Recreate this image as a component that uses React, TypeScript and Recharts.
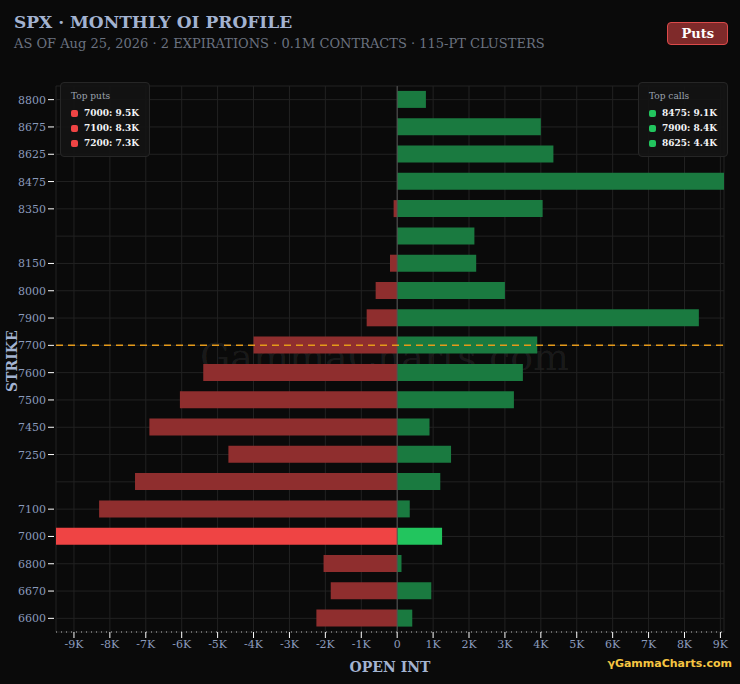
import { Bar, BarChart, CartesianGrid, Cell, ReferenceLine, XAxis, YAxis } from "recharts";

const strikes = ["8800", "8675", "8625", "8475", "8350", "8250", "8150", "8000", "7900", "7700", "7600", "7500", "7450", "7250", "7200", "7100", "7000", "6800", "6670", "6600"];
const hiddenLabels = ["8250", "7200"];
const puts = [0, 0, 0, 0, 0.1, 0, 0.2, 0.6, 0.85, 4.0, 5.4, 6.05, 6.9, 4.7, 7.3, 8.3, 9.5, 2.05, 1.85, 2.25];
const calls = [0.8, 4.0, 4.35, 9.1, 4.05, 2.15, 2.2, 3.0, 8.4, 3.9, 3.5, 3.25, 0.9, 1.5, 1.2, 0.35, 1.25, 0.12, 0.95, 0.42];
const xTicks = [-9, -8, -7, -6, -5, -4, -3, -2, -1, 0, 1, 2, 3, 4, 5, 6, 7, 8, 9];
const spot = "7700";
const highlight = "7000";
const topPuts = ["7000: 9.5K", "7100: 8.3K", "7200: 7.3K"];
const topCalls = ["8475: 9.1K", "7900: 8.4K", "8625: 4.4K"];

const rows = strikes.map((s, i) => ({ strike: s, put: -puts[i], call: calls[i] }));

const font = "DejaVu Serif, serif";

const Box = ({ title, items, color, style }: { title: string; items: string[]; color: string; style: any }) => (
  <div style={{ position: "absolute", background: "rgba(20,20,20,0.92)", border: "1px solid #262626", borderRadius: 4, padding: "8px 10px 3px", fontSize: 9, ...style }}>
    <div style={{ color: "#9ca3af", marginBottom: 7 }}>{title}</div>
    {items.map((t) => (
      <div key={t} style={{ color: "#f3f4f6", fontWeight: "bold", display: "flex", alignItems: "center", marginBottom: 5 }}>
        <span style={{ width: 7, height: 7, borderRadius: 2, background: color, marginRight: 6, display: "inline-block" }} />
        {t}
      </div>
    ))}
  </div>
);

const YTick = (props: any) => {
  const { x, y, payload } = props;
  if (hiddenLabels.includes(payload.value)) return null;
  return (
    <g>
      <line x1={x} x2={x + 6} y1={y} y2={y} stroke="#fff" />
      <text x={x - 2} y={y} dy={4} textAnchor="end" fill="#8a9bbd" fontSize={11} fontFamily={font}>{payload.value}</text>
    </g>
  );
};

export default function App() {
  return (
    <div style={{ position: "fixed", left: 0, top: 0, width: 740, height: 684, background: "#0a0a0a", fontFamily: font, overflow: "hidden" }}>
      <div style={{ position: "absolute", left: 14, top: 12, color: "#a3b3d1", fontSize: 17, fontWeight: "bold" }}>SPX · MONTHLY OI PROFILE</div>
      <div style={{ position: "absolute", left: 14, top: 36, color: "#6b7280", fontSize: 13 }}>AS OF Aug 25, 2026 · 2 EXPIRATIONS · 0.1M CONTRACTS · 115-PT CLUSTERS</div>
      <div style={{ position: "absolute", right: 12, top: 22, background: "#7f2a2a", border: "1px solid #dc4a4a", borderRadius: 4, color: "#fff", fontWeight: "bold", fontSize: 13, padding: "3px 13px" }}>Puts</div>
      <div style={{ position: "absolute", left: 200, top: 335, color: "rgba(255,255,255,0.07)", fontSize: 38 }}>GammaCharts.com</div>
      <div style={{ position: "absolute", left: 4, top: 392, transform: "rotate(-90deg)", transformOrigin: "left top", color: "#a3b3d1", fontSize: 14, fontWeight: "bold" }}>STRIKE</div>
      <BarChart width={740} height={684} data={rows} layout="vertical" stackOffset="sign" barCategoryGap="18%"
        margin={{ top: 86, right: 16, bottom: 30, left: 8 }}>
        <CartesianGrid stroke="#222" />
        <XAxis type="number" domain={[-9.5, 9.1]} ticks={xTicks} allowDataOverflow height={22}
          tickFormatter={(v) => (v === 0 ? "0" : `${v}K`)} tick={{ fill: "#8a9bbd", fontSize: 11, fontFamily: font }}
          stroke="#bbb" strokeDasharray="1 4" tickLine={{ stroke: "#fff", strokeDasharray: "none" }}
          label={{ value: "OPEN INT", position: "insideBottom", offset: -18, fill: "#a3b3d1", fontSize: 14, fontWeight: "bold", fontFamily: font }} />
        <YAxis type="category" dataKey="strike" width={48} interval={0} tick={<YTick />}
          axisLine={false} tickLine={false} />
        <ReferenceLine x={0} stroke="#555" />
        <Bar dataKey="put" stackId="a" isAnimationActive={false}>
          {rows.map((r) => <Cell key={r.strike} fill={r.strike === highlight ? "#ef4444" : "#8f2e2e"} />)}
        </Bar>
        <Bar dataKey="call" stackId="a" isAnimationActive={false}>
          {rows.map((r) => <Cell key={r.strike} fill={r.strike === highlight ? "#22c55e" : "#1a7a40"} />)}
        </Bar>
        <ReferenceLine y={spot} stroke="#e59a1a" strokeDasharray="7 5" strokeWidth={1.5} />
      </BarChart>
      <Box title="Top puts" items={topPuts} color="#ef4444" style={{ left: 60, top: 82 }} />
      <Box title="Top calls" items={topCalls} color="#22c55e" style={{ right: 12, top: 82 }} />
      <div style={{ position: "absolute", right: 8, bottom: 14, color: "#f5c542", fontSize: 11, fontWeight: "bold", fontFamily: "DejaVu Sans, sans-serif" }}>γGammaCharts.com</div>
    </div>
  );
}
